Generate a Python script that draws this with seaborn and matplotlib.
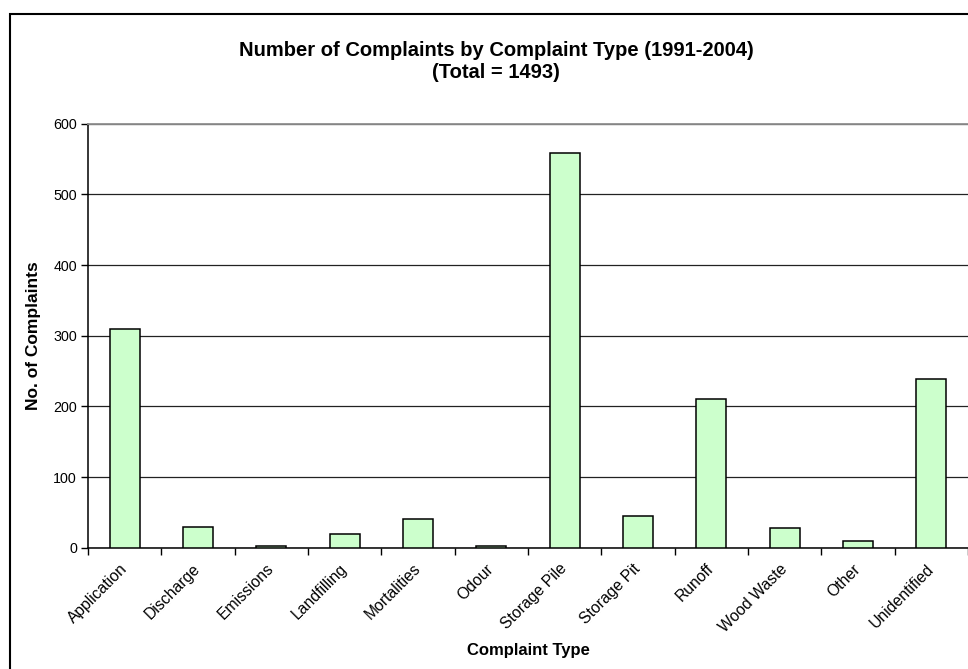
import numpy as np
import matplotlib
matplotlib.use("Agg")
import matplotlib.pyplot as plt
from matplotlib.patches import Rectangle
import seaborn as sns

# Complaint counts by type, 1991-2004
categories = ["Application", "Discharge", "Emissions", "Landfilling", "Mortalities",
              "Odour", "Storage Pile", "Storage Pit", "Runoff", "Wood Waste",
              "Other", "Unidentified"]
counts = [309, 29, 3, 20, 40, 3, 558, 45, 210, 28, 9, 239]
y_ticks = [0, 100, 200, 300, 400, 500, 600]

sns.set_theme(style="white")
plt.rcParams["font.family"] = ["Liberation Sans", "DejaVu Sans"]
plt.rcParams["text.color"] = "black"
plt.rcParams["axes.labelcolor"] = "black"

W, H = 968, 669
fig = plt.figure(figsize=(W / 100, H / 100), dpi=100)
fig.patch.set_facecolor("white")

left, right, top, bottom = 88, 968, 123.7, 547.7
ax = fig.add_axes([left / W, 1 - bottom / H, (right - left) / W, (bottom - top) / H])

sns.barplot(x=categories, y=counts, color="#CCFFCC", saturation=1,
            edgecolor="black", linewidth=1.1, width=0.41, ax=ax, zorder=3)

ax.set_xlim(-0.5, len(categories) - 0.5)
ax.set_ylim(0, 600)
ax.set_yticks(y_ticks)
ax.set_yticklabels([str(v) for v in y_ticks], fontsize=10.3, color="black")

# gridlines
ax.set_axisbelow(True)
ax.yaxis.grid(True, color="#222222", linewidth=0.9)
ax.xaxis.grid(False)

# category labels at centres, tick marks at category boundaries
ax.set_xticks(np.arange(len(categories)))
ax.set_xticklabels(categories, rotation=45, ha="right", va="center",
                   rotation_mode="anchor", fontsize=11.3, color="black")
ax.tick_params(axis="x", which="major", length=0, pad=13.5)
ax.set_xticks(np.arange(-0.5, len(categories), 1), minor=True)
ax.tick_params(axis="x", which="minor", length=5, width=1, color="black",
               direction="out", bottom=True)
ax.tick_params(axis="y", which="major", length=5, width=1, color="black",
               direction="out", left=True, pad=3)

for side in ["left", "bottom"]:
    ax.spines[side].set_color("black")
    ax.spines[side].set_linewidth(1.1)
ax.spines["top"].set_color("#909090")
ax.spines["top"].set_linewidth(1.3)
ax.spines["top"].set_zorder(4)
ax.spines["right"].set_visible(False)

ax.set_xlabel("Complaint Type", fontsize=12, fontweight="bold", labelpad=6)
ax.set_ylabel("No. of Complaints", fontsize=12.5, fontweight="bold", labelpad=9)

total = sum(counts)
fig.text(496 / W, 1 - 50 / H, "Number of Complaints by Complaint Type (1991-2004)",
         ha="center", va="center", fontsize=14.5, fontweight="bold", color="black")
fig.text(496 / W, 1 - 73 / H, f"(Total = {total})",
         ha="center", va="center", fontsize=14.5, fontweight="bold", color="black")

# chart-area border
fig.add_artist(Rectangle((9.5 / W, -0.2), 1.5, 1.2 - 14 / H,
                         transform=fig.transFigure, fill=False,
                         edgecolor="black", linewidth=1.5))

fig.savefig("out.png", dpi=100)
